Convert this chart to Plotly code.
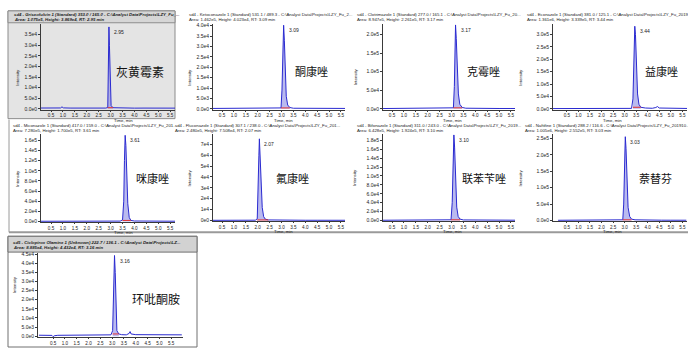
import plotly.graph_objects as go

W, H = 688, 349

# ---------------- data ----------------
names_cn = ["灰黄霉素", "酮康唑", "克霉唑", "益康唑", "咪康唑", "氟康唑", "联苯苄唑", "萘替芬", "环吡酮胺"]
header_1 = [
    "sd4 - Griseofulvin 1 (Standard) 353.0 / 165.0 - C:\\Analyst Data\\Projects\\LZY_Fu_...",
    "sd4 - Ketoconazole 1 (Standard) 531.1 / 489.3 - C:\\Analyst Data\\Projects\\LZY_Fu_2...",
    "sd4 - Clotrimazole 1 (Standard) 277.0 / 165.1 - C:\\Analyst Data\\Projects\\LZY_Fu_20...",
    "sd4 - Econazole 1 (Standard) 381.0 / 125.1 - C:\\Analyst Data\\Projects\\LZY_Fu_2019...",
    "sd4 - Miconazole 1 (Standard) 417.0 / 159.0 - C:\\Analyst Data\\Projects\\LZY_Fu_201...",
    "sd4 - Fluconazole 1 (Standard) 307.1 / 238.0 - C:\\Analyst Data\\Projects\\LZY_Fu_201...",
    "sd4 - Bifonazole 1 (Standard) 311.0 / 243.0 - C:\\Analyst Data\\Projects\\LZY_Fu_2019...",
    "sd4 - Naftifine 1 (Standard) 288.2 / 116.6 - C:\\Analyst Data\\Projects\\LZY_Fu_201910...",
    "sd5 - Ciclopirox Olamine 1 (Unknown) 222.7 / 136.1 - C:\\Analyst Data\\Projects\\LZ...",
]
header_2 = [
    "Area: 1.075e5, Height: 3.869e4, RT: 2.95 min",
    "Area: 1.462e5, Height: 4.023e4, RT: 3.09 min",
    "Area: 8.947e5, Height: 2.261e5, RT: 3.17 min",
    "Area: 1.361e6, Height: 3.339e5, RT: 3.44 min",
    "Area: 7.280e5, Height: 1.700e5, RT: 3.61 min",
    "Area: 2.480e5, Height: 7.508e4, RT: 2.07 min",
    "Area: 6.428e5, Height: 1.924e5, RT: 3.10 min",
    "Area: 1.005e6, Height: 2.552e5, RT: 3.03 min",
    "Area: 8.885e4, Height: 4.432e4, RT: 3.16 min",
]
rt_labels = ["2.95", "3.09", "3.17", "3.44", "3.61", "2.07", "3.10", "3.03", "3.16"]

t1 = [0.08, 0.3, 0.6, 0.9, 0.96, 1.02, 1.3, 1.7, 2.1, 2.5, 2.8, 2.88, 2.91, 2.93, 2.95, 2.98, 3.02, 3.1, 3.3, 3.6, 4.0, 4.4, 4.8, 5.2, 5.7]
y1 = [350, 300, 320, 380, 900, 420, 330, 300, 320, 310, 330, 600, 18000, 38690, 30000, 9000, 1500, 500, 380, 330, 300, 320, 300, 310, 300]
t2 = [0.12, 0.5, 1.0, 1.5, 2.0, 2.5, 2.9, 2.98, 3.02, 3.06, 3.09, 3.12, 3.16, 3.2, 3.26, 3.35, 3.5, 4.0, 4.5, 5.0, 5.5, 5.67]
y2 = [150, 160, 150, 170, 160, 150, 170, 400, 9000, 30000, 40230, 33000, 18000, 6000, 1800, 600, 250, 180, 160, 170, 150, 160]
t3 = [0.12, 0.5, 1.0, 1.5, 2.0, 2.5, 3.0, 3.08, 3.12, 3.15, 3.17, 3.2, 3.24, 3.29, 3.35, 3.45, 3.6, 4.0, 4.5, 5.0, 5.5, 5.67]
y3 = [600, 700, 650, 700, 650, 700, 800, 2500, 60000, 180000, 226100, 190000, 110000, 40000, 12000, 3500, 1500, 900, 800, 700, 750, 700]
t4 = [-0.1, 0.5, 1.0, 1.5, 2.0, 2.5, 3.0, 3.3, 3.36, 3.4, 3.44, 3.47, 3.51, 3.56, 3.62, 3.7, 3.9, 4.2, 4.35, 4.42, 4.5, 4.8, 5.2, 5.7]
y4 = [800, 900, 850, 900, 850, 900, 1000, 1500, 40000, 240000, 333900, 300000, 170000, 60000, 18000, 6000, 3000, 2000, 5000, 9000, 3000, 2000, 1500, 1200]
t5 = [0.08, 0.5, 1.0, 1.5, 2.0, 2.5, 3.0, 3.4, 3.5, 3.55, 3.58, 3.61, 3.64, 3.68, 3.72, 3.78, 3.85, 4.0, 4.5, 5.0, 5.5, 5.7]
y5 = [400, 450, 400, 420, 400, 450, 500, 700, 3000, 40000, 120000, 170000, 150000, 90000, 35000, 8000, 2000, 900, 600, 500, 450, 450]
t6 = [0.12, 0.5, 1.0, 1.5, 1.9, 1.98, 2.02, 2.05, 2.07, 2.1, 2.14, 2.19, 2.25, 2.32, 2.45, 2.8, 3.2, 3.6, 4.0, 4.5, 5.0, 5.5, 5.67]
y6 = [150, 160, 150, 160, 250, 1500, 25000, 60000, 75080, 62000, 35000, 12000, 3500, 1200, 500, 300, 250, 220, 200, 200, 180, 180, 180]
t7 = [0.12, 0.5, 1.0, 1.5, 2.0, 2.5, 2.9, 2.98, 3.03, 3.07, 3.1, 3.13, 3.17, 3.22, 3.28, 3.36, 3.5, 4.0, 4.5, 5.0, 5.5, 5.67]
y7 = [500, 550, 500, 520, 500, 550, 600, 1500, 40000, 150000, 192400, 165000, 90000, 30000, 9000, 3000, 1200, 800, 700, 650, 600, 600]
t8 = [0.12, 0.5, 1.0, 1.5, 2.0, 2.5, 2.85, 2.92, 2.96, 3.0, 3.03, 3.06, 3.1, 3.15, 3.22, 3.3, 3.45, 3.8, 4.2, 4.6, 5.0, 5.5, 5.67]
y8 = [600, 650, 600, 620, 600, 650, 800, 2000, 50000, 200000, 255200, 220000, 120000, 40000, 12000, 4000, 2000, 1200, 1000, 900, 800, 750, 700]
t9 = [-0.1, 0.3, 0.45, 0.5, 0.55, 0.7, 1.0, 1.5, 2.0, 2.5, 2.95, 3.02, 3.06, 3.1, 3.13, 3.16, 3.2, 3.28, 3.4, 3.6, 3.72, 3.76, 3.8, 4.0, 4.5, 5.0, 5.5, 5.95]
y9 = [500, 500, 400, -300, 200, 450, 500, 600, 550, 600, 700, 3000, 25000, 44320, 35000, 12000, 3000, 1200, 800, 700, 1500, 2500, 1200, 800, 700, 750, 700, 700]

times = [t1, t2, t3, t4, t5, t6, t7, t8, t9]
intens = [y1, y2, y3, y4, y5, y6, y7, y8, y9]
fill_start = [2.88, 2.98, 3.08, 3.36, 3.5, 1.98, 2.98, 2.92, 3.02]
fill_end = [3.1, 3.35, 3.45, 3.7, 3.85, 2.45, 3.36, 3.3, 3.28]

x_tickvals = [0.5, 1.0, 1.5, 2.0, 2.5, 3.0, 3.5, 4.0, 4.5, 5.0, 5.5]
x_ticktext = ["0.5", "1.0", "1.5", "2.0", "2.5", "3.0", "3.5", "4.0", "4.5", "5.0", "5.5"]

y_tickvals = [
    [0, 5e3, 1e4, 1.5e4, 2e4, 2.5e4, 3e4, 3.5e4],
    [0, 5e3, 1e4, 1.5e4, 2e4, 2.5e4, 3e4, 3.5e4, 4e4],
    [0, 5e4, 1e5, 1.5e5, 2e5],
    [0, 5e4, 1e5, 1.5e5, 2e5, 2.5e5, 3e5],
    [0, 2e4, 4e4, 6e4, 8e4, 1e5, 1.2e5, 1.4e5, 1.6e5],
    [0, 1e4, 2e4, 3e4, 4e4, 5e4, 6e4, 7e4],
    [0, 2e4, 4e4, 6e4, 8e4, 1e5, 1.2e5, 1.4e5, 1.6e5, 1.8e5],
    [0, 5e4, 1e5, 1.5e5, 2e5, 2.5e5],
    [0, 5e3, 1e4, 1.5e4, 2e4, 2.5e4, 3e4, 3.5e4, 4e4, 4.5e4],
]
y_ticktext = [
    ["0.0e0", "5.0e3", "1.0e4", "1.5e4", "2.0e4", "2.5e4", "3.0e4", "3.5e4"],
    ["0.0e0", "5.0e3", "1.0e4", "1.5e4", "2.0e4", "2.5e4", "3.0e4", "3.5e4", "4.0e4"],
    ["0.0e0", "5.0e4", "1.0e5", "1.5e5", "2.0e5"],
    ["0.0e0", "5.0e4", "1.0e5", "1.5e5", "2.0e5", "2.5e5", "3.0e5"],
    ["0.0e0", "2.0e4", "4.0e4", "6.0e4", "8.0e4", "1.0e5", "1.2e5", "1.4e5", "1.6e5"],
    ["0e0", "1e4", "2e4", "3e4", "4e4", "5e4", "6e4", "7e4"],
    ["0.0e0", "2.0e4", "4.0e4", "6.0e4", "8.0e4", "1.0e5", "1.2e5", "1.4e5", "1.6e5", "1.8e5"],
    ["0.0e0", "5.0e4", "1.0e5", "1.5e5", "2.0e5", "2.5e5"],
    ["0.0e0", "5.0e3", "1.0e4", "1.5e4", "2.0e4", "2.5e4", "3.0e4", "3.5e4", "4.0e4", "4.5e4"],
]

# ---------------- layout geometry (pixels) ----------------
panels = [
    dict(l=41, r=175, t=22, b=109, xr=[0.08, 5.7], y0=108, ppu=10.7 / 5e3),
    dict(l=213, r=345, t=22, b=109, xr=[0.12, 5.67], y0=108, ppu=10.5 / 5e3),
    dict(l=383, r=515, t=22, b=109, xr=[0.12, 5.67], y0=108, ppu=18.75 / 5e4),
    dict(l=553, r=687, t=22, b=109, xr=[-0.1, 5.7], y0=108, ppu=12.5 / 5e4),
    dict(l=41, r=175, t=134, b=223, xr=[0.08, 5.7], y0=222, ppu=10.25 / 2e4),
    dict(l=213, r=345, t=134, b=222, xr=[0.12, 5.67], y0=221, ppu=11.0 / 1e4),
    dict(l=383, r=515, t=134, b=222, xr=[0.12, 5.67], y0=221, ppu=9.0 / 2e4),
    dict(l=553, r=687, t=134, b=222, xr=[-0.1, 5.7], y0=221, ppu=16.6 / 5e4),
    dict(l=38, r=183, t=254, b=339, xr=[-0.14, 6.0], y0=338, ppu=9.2 / 5e3),
]
label_pos = [(140, 70), (311, 70), (483, 70), (661, 70), (152, 178), (292, 178), (484, 178), (655, 178), (156, 300)]
header_pos = [(12, 13), (187, 13), (355, 13), (525, 13), (11, 125), (173, 125), (355, 125), (523, 125), (11, 243)]


def px(x):
    return x / W


def py(y):
    return 1 - y / H


fig = go.Figure()
layout = dict(width=W, height=H, margin=dict(l=0, r=0, t=0, b=0),
              paper_bgcolor="white", plot_bgcolor="rgba(0,0,0,0)", showlegend=False)
annotations = []
shapes = []

# panel frames
shapes.append(dict(type="rect", xref="paper", yref="paper", x0=px(8), x1=px(175), y0=py(118), y1=py(9),
                   fillcolor="#e4e4e4", line=dict(color="#8c8c8c", width=1), layer="below"))
shapes.append(dict(type="rect", xref="paper", yref="paper", x0=px(8), x1=px(175), y0=py(21), y1=py(9),
                   fillcolor="#d6d6d6", line=dict(color="#8c8c8c", width=1), layer="below"))
shapes.append(dict(type="line", xref="paper", yref="paper", x0=px(9), x1=px(9), y0=py(233), y1=py(119),
                   line=dict(color="#9a9a9a", width=1), layer="below"))
shapes.append(dict(type="line", xref="paper", yref="paper", x0=px(9), x1=px(688), y0=py(233), y1=py(233),
                   line=dict(color="#9a9a9a", width=2), layer="below"))
shapes.append(dict(type="rect", xref="paper", yref="paper", x0=px(8), x1=px(197), y0=py(349), y1=py(237),
                   fillcolor="white", line=dict(color="#707070", width=1), layer="below"))
shapes.append(dict(type="rect", xref="paper", yref="paper", x0=px(8), x1=px(197), y0=py(253), y1=py(237),
                   fillcolor="#d2d2d2", line=dict(color="#707070", width=1), layer="below"))

small = dict(size=5, color="#222", family="Liberation Sans")
xtick_font = dict(size=4.6, color="#222", family="Liberation Sans")
hfont = dict(size=4.3, color="#222", family="Liberation Sans")

for i, p in enumerate(panels):
    k = i + 1
    xa = "x" if k == 1 else f"x{k}"
    ya = "y" if k == 1 else f"y{k}"
    lo = -(p["b"] - p["y0"]) / p["ppu"]
    hi = (p["y0"] - p["t"]) / p["ppu"]
    layout[f"xaxis{k}" if k > 1 else "xaxis"] = dict(
        domain=[px(p["l"]), px(p["r"])], anchor=ya, range=p["xr"],
        tickvals=x_tickvals, ticktext=x_ticktext, showline=True, linecolor="#3a3a3a", linewidth=1,
        ticks="outside", ticklen=1, tickcolor="#3a3a3a", tickfont=xtick_font, ticklabelstandoff=0,
        showgrid=False, zeroline=False, fixedrange=True)
    layout[f"yaxis{k}" if k > 1 else "yaxis"] = dict(
        domain=[py(p["b"]), py(p["t"])], anchor=xa, range=[lo, hi],
        tickvals=y_tickvals[i], ticktext=y_ticktext[i], showline=True, linecolor="#3a3a3a", linewidth=1,
        ticks="outside", ticklen=2, tickcolor="#3a3a3a", tickfont=small,
        showgrid=False, zeroline=False, fixedrange=True)

    t = times[i]
    v = intens[i]
    ft = [a for a in t if fill_start[i] <= a <= fill_end[i]]
    fv = [b for a, b in zip(t, v) if fill_start[i] <= a <= fill_end[i]]
    fig.add_trace(go.Scatter(x=ft, y=fv, mode="lines", fill="tozeroy", fillcolor="rgba(130,130,225,0.55)",
                             line=dict(width=0), xaxis=xa, yaxis=ya, hoverinfo="skip"))
    fig.add_trace(go.Scatter(x=t, y=v, mode="lines", line=dict(color="#2a2ad0", width=1),
                             xaxis=xa, yaxis=ya))
    base = min(fv)
    fig.add_trace(go.Scatter(x=[fill_start[i], fill_end[i]], y=[base, base], mode="lines",
                             line=dict(color="#e03030", width=1), xaxis=xa, yaxis=ya))

    imax = v.index(max(v))
    annotations.append(dict(x=t[imax], y=v[imax], xref=xa, yref=ya, text=rt_labels[i], showarrow=False,
                            xanchor="left", yanchor="top", xshift=3, yshift=0, font=small))

    lx, ly = label_pos[i]
    annotations.append(dict(x=px(lx), y=py(ly), xref="paper", yref="paper", text=names_cn[i], showarrow=False,
                            xanchor="center", yanchor="middle",
                            font=dict(size=12 if i in (0, 8) else 11, color="#111", family="Noto Sans CJK SC")))

    hx, hy = header_pos[i]
    t1txt = header_1[i]
    t2txt = header_2[i]
    if i in (0, 8):
        t1txt = "<i><b>" + t1txt + "</b></i>"
        t2txt = "<i><b>" + t2txt + "</b></i>"
    annotations.append(dict(x=px(hx), y=py(hy), xref="paper", yref="paper", text=t1txt, showarrow=False,
                            xanchor="left", yanchor="middle", font=hfont))
    annotations.append(dict(x=px(hx), y=py(hy + 5), xref="paper", yref="paper", text=t2txt, showarrow=False,
                            xanchor="left", yanchor="middle", font=hfont))

    annotations.append(dict(x=px(p["l"] - 28), y=py((p["t"] + p["b"]) / 2), xref="paper", yref="paper",
                            text="Intensity", textangle=-90, showarrow=False, font=hfont))
    if i < 8:
        annotations.append(dict(x=px((p["l"] + p["r"]) / 2 + 4), y=py(p["b"] + 10.5), xref="paper", yref="paper",
                                text="Time, min", showarrow=False, yanchor="middle", font=hfont))

layout["annotations"] = annotations
layout["shapes"] = shapes
fig.update_layout(**layout)
fig.write_html("out.html", config={"displayModeBar": False},
               post_script="document.body.style.margin='0px';")
